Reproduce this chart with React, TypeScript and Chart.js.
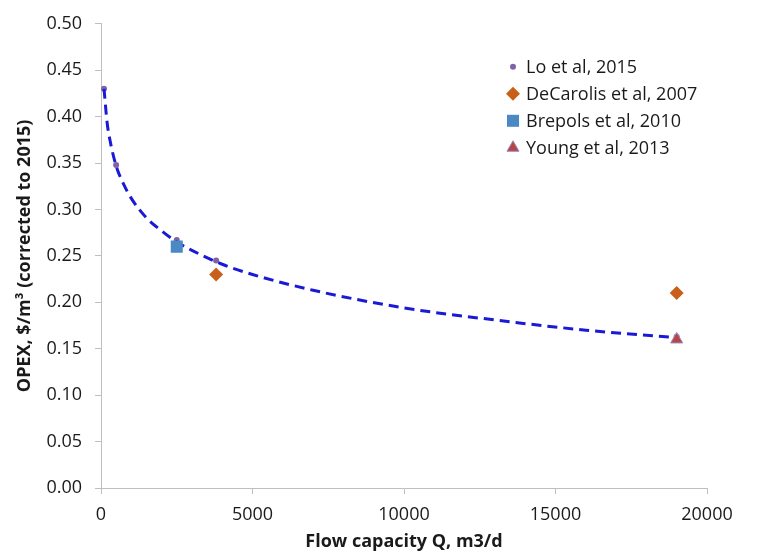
import React, { useEffect, useRef } from 'react';
import { Chart, registerables } from 'chart.js';
import { drawPoint } from 'chart.js/helpers';

Chart.register(...registerables);

// ---- data ----
const loQ = [100, 500, 2500, 3800, 19000];
const loOpex = [0.43, 0.348, 0.267, 0.245, 0.163];

const deCarolisQ = [3800, 19000];
const deCarolisOpex = [0.23, 0.21];

const brepolsQ = [2500];
const brepolsOpex = [0.26];

const youngQ = [19000];
const youngOpex = [0.16];

// points
const trendQ = [100, 200, 300, 500, 750, 1000, 1500, 2000, 2500, 3000, 4000, 5000, 7000, 10000, 13000, 16000, 19000];
const trendOpex = [0.43, 0.394, 0.374, 0.347, 0.327, 0.312, 0.291, 0.277, 0.265, 0.256, 0.241, 0.23, 0.213, 0.194, 0.181, 0.17, 0.162];

const seriesLabels = ['Lo et al, 2015', 'DeCarolis et al, 2007', 'Brepols et al, 2010', 'Young et al, 2013'];

const xTitle = 'Flow capacity Q, m3/d';
const yTitle = 'OPEX, $/m\u00B3 (corrected to 2015)';

const toPts = (xs: number[], ys: number[]) => xs.map((x, i) => ({ x, y: ys[i] }));

const FONT = '"Open Sans", "DejaVu Sans", sans-serif';
const AXIS_COLOR = '#bfbfbf';
const TEXT_COLOR = '#1a1a1a';

const insideLegend = {
  id: 'insideLegend',
  afterDraw(chart: any) {
    const { ctx, chartArea } = chart;
    const markerX = chartArea.right - 194;
    const textX = chartArea.right - 181;
    const y0 = chartArea.top + 43;
    const rowH = 27;
    ctx.save();
    ctx.font = `18px ${FONT}`;
    ctx.textBaseline = 'middle';
    ctx.textAlign = 'left';
    let row = 0;
    chart.data.datasets.forEach((ds: any) => {
      if (!ds.inLegend) return;
      const y = y0 + row * rowH;
      ctx.fillStyle = ds.backgroundColor;
      ctx.strokeStyle = ds.borderColor;
      ctx.lineWidth = ds.borderWidth || 0;
      drawPoint(ctx, { pointStyle: ds.pointStyle, radius: ds.legendRadius, rotation: 0, borderWidth: ds.borderWidth || 0 } as any, markerX, y);
      ctx.fillStyle = TEXT_COLOR;
      ctx.fillText(ds.label, textX, y + 1);
      row++;
    });
    ctx.restore();
  },
};

export default function App() {
  const ref = useRef<HTMLCanvasElement | null>(null);

  useEffect(() => {
    if (!ref.current) return;
    const chart = new Chart(ref.current, {
      type: 'scatter',
      data: {
        datasets: [
          {
            label: 'trend',
            data: toPts(trendQ, trendOpex),
            showLine: true,
            borderColor: 'rgb(26,26,214)',
            backgroundColor: 'rgb(26,26,214)',
            borderWidth: 3,
            borderDash: [10, 6],
            pointRadius: 0,
            cubicInterpolationMode: 'monotone',
            order: 1,
          } as any,
          {
            label: seriesLabels[0],
            data: toPts(loQ, loOpex),
            pointStyle: 'circle',
            pointRadius: 3,
            backgroundColor: '#7f63a8',
            borderColor: '#7f63a8',
            borderWidth: 0,
            inLegend: true,
            legendRadius: 3,
            order: 5,
          } as any,
          {
            label: seriesLabels[1],
            data: toPts(deCarolisQ, deCarolisOpex),
            pointStyle: 'rectRot',
            pointRadius: 7,
            backgroundColor: '#c8601a',
            borderColor: '#c8601a',
            borderWidth: 0,
            inLegend: true,
            legendRadius: 7,
            order: 4,
          } as any,
          {
            label: seriesLabels[2],
            data: toPts(brepolsQ, brepolsOpex),
            pointStyle: 'rect',
            pointRadius: 8.5,
            backgroundColor: '#4a89c4',
            borderColor: '#4a89c4',
            borderWidth: 0,
            inLegend: true,
            legendRadius: 8.5,
            order: 0,
          } as any,
          {
            label: seriesLabels[3],
            data: toPts(youngQ, youngOpex),
            pointStyle: 'triangle',
            pointRadius: 7,
            backgroundColor: '#b84444',
            borderColor: '#9a8cc8',
            borderWidth: 1,
            inLegend: true,
            legendRadius: 7,
            order: 0,
          } as any,
        ],
      },
      options: {
        responsive: false,
        animation: false,
        layout: { padding: { left: 0, top: 13, right: 61, bottom: 0 } },
        plugins: {
          legend: { display: false },
          tooltip: { enabled: false },
        },
        scales: {
          x: {
            type: 'linear',
            min: 0,
            max: 20000,
            ticks: {
              stepSize: 5000,
              color: TEXT_COLOR,
              font: { family: FONT, size: 18 },
              padding: 10,
              callback: (v: any) => String(v),
            },
            grid: { drawOnChartArea: false, drawTicks: true, tickLength: 6, color: AXIS_COLOR },
            border: { color: AXIS_COLOR, width: 1 },
            title: {
              display: true,
              text: xTitle,
              color: TEXT_COLOR,
              font: { family: FONT, size: 18, weight: 'bold' },
              padding: { top: 0, bottom: 4 },
            },
            afterFit: (s: any) => { s.height = 69; },
          },
          y: {
            type: 'linear',
            min: 0,
            max: 0.5,
            ticks: {
              stepSize: 0.05,
              color: TEXT_COLOR,
              font: { family: FONT, size: 18 },
              padding: 13,
              callback: (v: any) => Number(v).toFixed(2),
            },
            grid: { drawOnChartArea: false, drawTicks: true, tickLength: 6, color: AXIS_COLOR },
            border: { color: AXIS_COLOR, width: 1 },
            title: {
              display: true,
              text: yTitle,
              color: TEXT_COLOR,
              font: { family: FONT, size: 18, weight: 'bold' },
              padding: { top: 14, bottom: 0 },
            },
            afterFit: (s: any) => { s.width = 101; },
          },
        },
      } as any,
      plugins: [insideLegend],
    });
    return () => chart.destroy();
  }, []);

  return (
    <div style={{ position: 'absolute', left: 0, top: 0, width: 768, height: 557 }}>
      <canvas ref={ref} width={768} height={557} style={{ display: 'block' }} />
    </div>
  );
}
